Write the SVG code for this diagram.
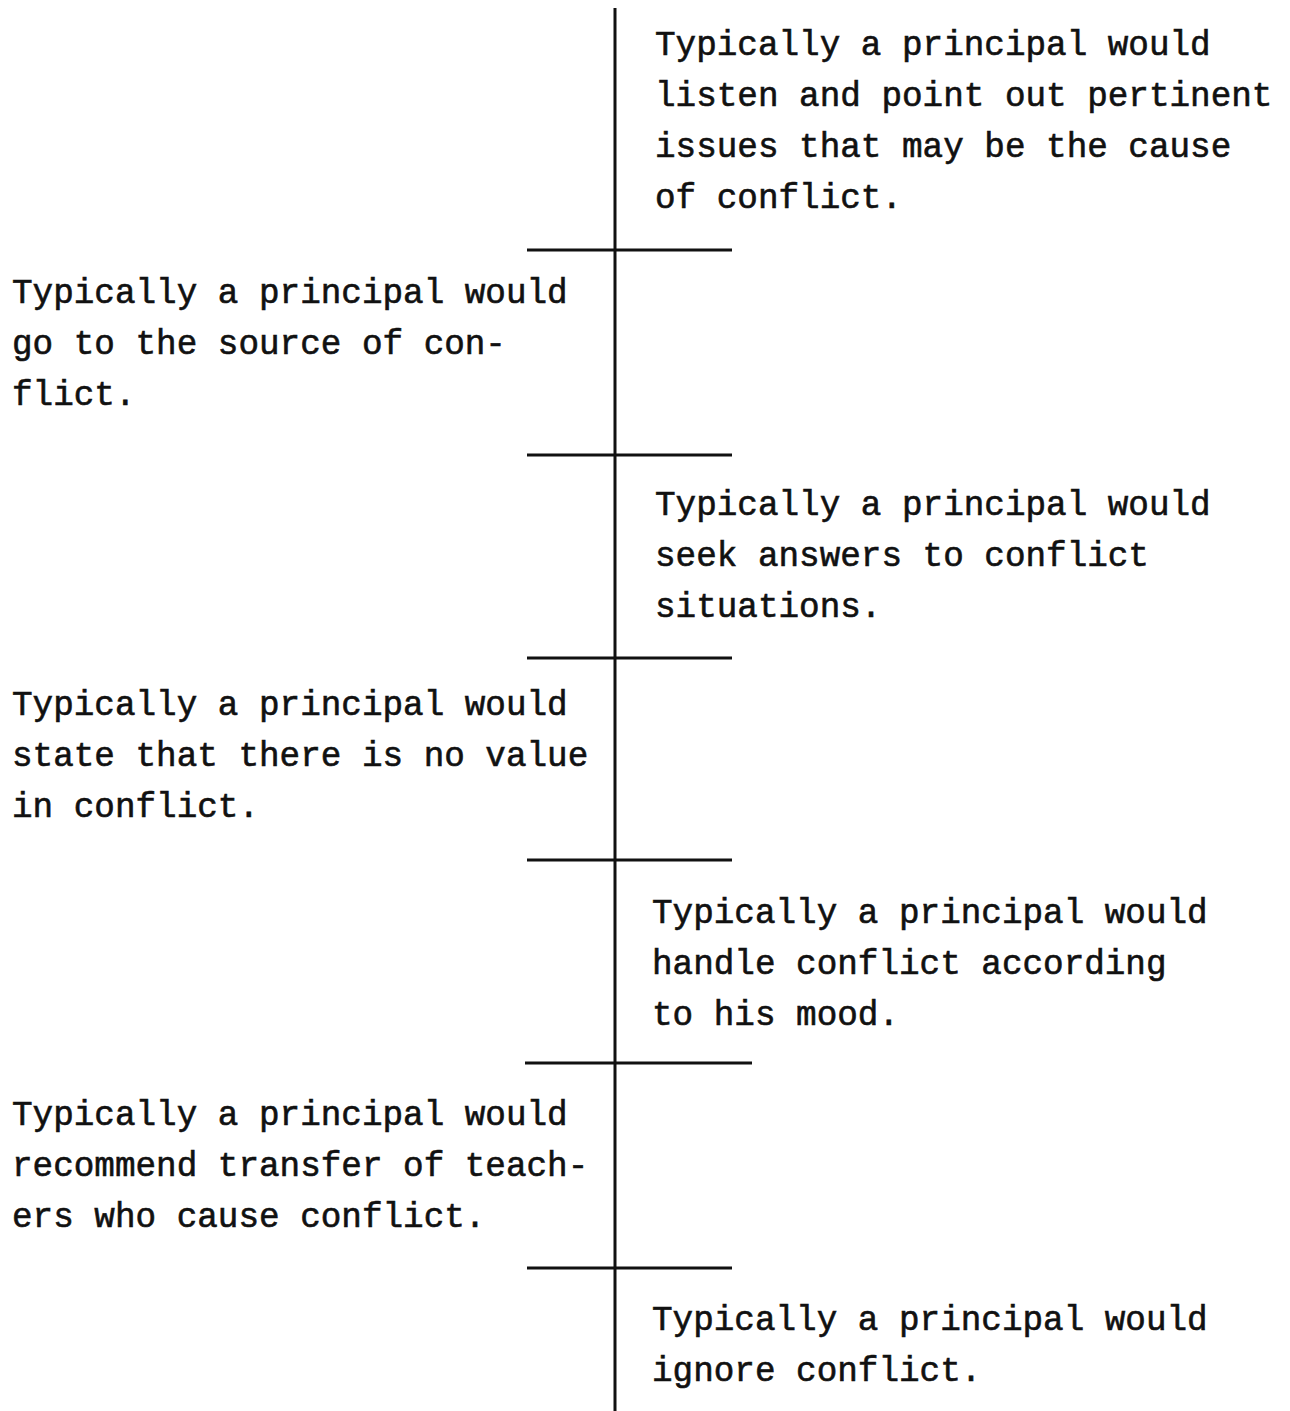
<svg xmlns="http://www.w3.org/2000/svg" width="1290" height="1411" viewBox="0 0 1290 1411">
<style>
text{font-family:"Liberation Mono","Courier New",monospace;font-size:34.3px;fill:#111;stroke:#111;stroke-width:0.6}
.ln{stroke:#111;stroke-width:3;fill:none;stroke-linecap:butt}
</style>
<rect width="1290" height="1411" fill="#fff"/>
<g id="connectors">
<line class="ln" x1="615" y1="8" x2="615" y2="1411"/>
<line class="ln" x1="527" y1="250" x2="732" y2="250"/>
<line class="ln" x1="527" y1="455" x2="732" y2="455"/>
<line class="ln" x1="527" y1="658" x2="732" y2="658"/>
<line class="ln" x1="527" y1="860" x2="732" y2="860"/>
<line class="ln" x1="525" y1="1063" x2="752" y2="1063"/>
<line class="ln" x1="527" y1="1268" x2="732" y2="1268"/>
</g>
<g id="n1">
<text x="655" y="55">Typically a principal would</text>
<text x="655" y="106">listen and point out pertinent</text>
<text x="655" y="157">issues that may be the cause</text>
<text x="655" y="208">of conflict.</text>
</g>
<g id="n2">
<text x="12" y="303">Typically a principal would</text>
<text x="12" y="354">go to the source of con-</text>
<text x="12" y="405">flict.</text>
</g>
<g id="n3">
<text x="655" y="515">Typically a principal would</text>
<text x="655" y="566">seek answers to conflict</text>
<text x="655" y="617">situations.</text>
</g>
<g id="n4">
<text x="12" y="715">Typically a principal would</text>
<text x="12" y="766">state that there is no value</text>
<text x="12" y="817">in conflict.</text>
</g>
<g id="n5">
<text x="652" y="923">Typically a principal would</text>
<text x="652" y="974">handle conflict according</text>
<text x="652" y="1025">to his mood.</text>
</g>
<g id="n6">
<text x="12" y="1125">Typically a principal would</text>
<text x="12" y="1176">recommend transfer of teach-</text>
<text x="12" y="1227">ers who cause conflict.</text>
</g>
<g id="n7">
<text x="652" y="1330">Typically a principal would</text>
<text x="652" y="1381">ignore conflict.</text>
</g>
</svg>
